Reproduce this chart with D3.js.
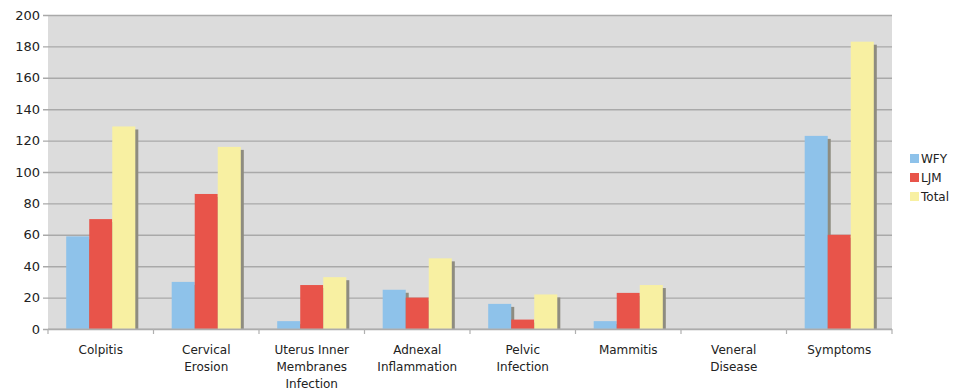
<!DOCTYPE html>
<html>
<head>
<meta charset="utf-8">
<script src="https://cdn.jsdelivr.net/npm/d3@7/dist/d3.min.js"></script>
<style>
  html, body { margin: 0; padding: 0; background: #ffffff; }
  svg { display: block; }
  text { font-family: "DejaVu Sans", Verdana, sans-serif; fill: #222; }
</style>
</head>
<body>
<svg id="chart" width="955" height="390"></svg>
<script>
// Case counts per condition
const categories = [
  ["Colpitis"],
  ["Cervical", "Erosion"],
  ["Uterus Inner", "Membranes", "Infection"],
  ["Adnexal", "Inflammation"],
  ["Pelvic", "Infection"],
  ["Mammitis"],
  ["Veneral", "Disease"],
  ["Symptoms"]
];
const seriesNames = ["WFY", "LJM", "Total"];
const wfy   = [59, 30, 5, 25, 16, 5, 0, 123];
const ljm   = [70, 86, 28, 20, 6, 23, 0, 60];
const total = [129, 116, 33, 45, 22, 28, 0, 183];
const yTicks = [0, 20, 40, 60, 80, 100, 120, 140, 160, 180, 200];
const colors = ["#8ec2ea", "#e8544a", "#f8f0a2"];

const seriesValues = [wfy, ljm, total];
const keys = categories.map(c => c.join(" "));
const rows = keys.map((k, i) => ({ key: k, lines: categories[i], values: seriesValues.map(s => s[i]) }));

const svg = d3.select("#chart");
const margin = { left: 48, right: 63, top: 15, bottom: 61 };
const W = 955, H = 390;
const iw = W - margin.left - margin.right;
const ih = H - margin.top - margin.bottom;

const g = svg.append("g").attr("transform", `translate(${margin.left},${margin.top})`);

const x0 = d3.scaleBand().domain(keys).range([0, iw]).paddingInner(0).paddingOuter(0);
const x1 = d3.scaleBand().domain(seriesNames).range([0, x0.bandwidth() * 0.655]);
const groupOffset = (x0.bandwidth() - x1.range()[1]) / 2;
const y = d3.scaleLinear().domain([0, 200]).range([ih, 0]);

// plot background
g.append("rect").attr("x", 0).attr("y", 0).attr("width", iw).attr("height", ih).attr("fill", "#dcdcdc");

// horizontal gridlines with short ticks on the left
g.append("g")
  .call(d3.axisLeft(y).tickValues(yTicks).tickSize(-iw).tickFormat(""))
  .call(a => a.select(".domain").remove())
  .call(a => a.selectAll("line").attr("stroke", "#a9a9a9").attr("stroke-width", 1.4).attr("x1", -5));

// y tick labels
g.append("g")
  .call(d3.axisLeft(y).tickValues(yTicks).tickSize(0).tickPadding(8))
  .call(a => a.select(".domain").remove())
  .call(a => a.selectAll("text").attr("font-size", 13).attr("fill", "#222"));

// bars with a soft offset shadow
const groups = g.selectAll(".grp").data(rows).join("g")
  .attr("transform", d => `translate(${x0(d.key) + groupOffset},0)`);

groups.each(function(d) {
  const sel = d3.select(this);
  d.values.forEach((v, i) => {
    if (v <= 0) return;
    sel.append("rect")
      .attr("x", x1(seriesNames[i]) + 3).attr("y", y(v) + 3)
      .attr("width", x1.bandwidth()).attr("height", ih - y(v) - 3)
      .attr("fill", "#8e8c80");
    sel.append("rect")
      .attr("x", x1(seriesNames[i])).attr("y", y(v))
      .attr("width", x1.bandwidth()).attr("height", ih - y(v))
      .attr("fill", colors[i]);
  });
});

// x axis baseline and category boundary ticks
g.append("line").attr("x1", 0).attr("x2", iw).attr("y1", ih).attr("y2", ih)
  .attr("stroke", "#b0b0b0").attr("stroke-width", 1.2);
const bounds = keys.map(k => x0(k)).concat([iw]);
g.selectAll(".bt").data(bounds).join("line")
  .attr("x1", d => d).attr("x2", d => d).attr("y1", ih).attr("y2", ih + 5)
  .attr("stroke", "#b0b0b0").attr("stroke-width", 1.2);

// category labels
const lab = g.selectAll(".lab").data(rows).join("text")
  .attr("text-anchor", "middle")
  .attr("font-size", 12)
  .attr("transform", d => `translate(${x0(d.key) + x0.bandwidth() / 2},${ih + 25})`);
lab.selectAll("tspan").data(d => d.lines).join("tspan")
  .attr("x", 0).attr("dy", (d, i) => i === 0 ? 0 : 17).text(d => d);

// legend
const lg = svg.append("g").attr("transform", "translate(910,154)");
seriesNames.forEach((n, i) => {
  const row = lg.append("g").attr("transform", `translate(0,${i * 19})`);
  row.append("rect").attr("width", 9).attr("height", 9).attr("fill", colors[i]);
  row.append("text").attr("x", 11).attr("y", 9).attr("font-size", 12).text(n);
});
</script>
</body>
</html>
